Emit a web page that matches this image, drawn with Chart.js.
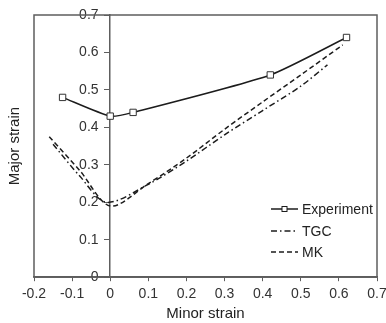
<!DOCTYPE html>
<html>
<head>
<meta charset="utf-8">
<script src="https://cdn.jsdelivr.net/npm/chart.js@4.4.1/dist/chart.umd.min.js"></script>
<style>
  html, body { margin: 0; padding: 0; background: #fff; }
  #wrap { width: 386px; height: 323px; }
</style>
</head>
<body>
<div id="wrap"><canvas id="strainChart" width="386" height="323"></canvas></div>
<script>
// values (minor strain, major strain)
var expMinor = [-0.125, 0, 0.06, 0.42, 0.62];
var expMajor = [0.48, 0.43, 0.44, 0.54, 0.64];

var tgcMinor = [-0.15, -0.08, -0.01, 0.1, 0.2, 0.3, 0.4, 0.5, 0.57];
var tgcMajor = [0.355, 0.27, 0.2, 0.248, 0.31, 0.38, 0.445, 0.51, 0.567];

var mkMinor = [-0.16, -0.08, 0, 0.1, 0.2, 0.3, 0.4, 0.5, 0.61];
var mkMajor = [0.375, 0.285, 0.19, 0.25, 0.318, 0.395, 0.468, 0.54, 0.62];

var seriesNames = ['Experiment', 'TGC', 'MK'];
var xTicks = [-0.2, 0.7, 0.1];   // min, max, step
var yTicks = [0, 0.7, 0.1];

function pairs(xs, ys) {
	return xs.map(function(x, i) { return {x: x, y: ys[i]}; });
}

var fontFam = "'Liberation Sans', Arial, sans-serif";
var ink = '#1c1c1c';
var axisGrey = '#5e5e5e';

// box round the plot area
var frame = {
	id: 'frame',
	afterDatasetsDraw: function(chart) {
		var a = chart.chartArea, c = chart.ctx;
		c.save();
		c.strokeStyle = axisGrey;
		c.lineWidth = 1.5;
		c.strokeRect(a.left, a.top, a.right - a.left, a.bottom - a.top);
		c.restore();
	}
};

// legend box inside the plot, lower right
var insideLegend = {
	id: 'insideLegend',
	afterDraw: function(chart) {
		var c = chart.ctx;
		var x0 = 271, x1 = 298, tx = 302;
		var rows = [209, 231, 252];
		c.save();
		c.font = '14px ' + fontFam;
		c.textBaseline = 'middle';
		c.fillStyle = '#222';
		chart.data.datasets.forEach(function(ds, i) {
			var y = rows[i];
			c.strokeStyle = ds.borderColor;
			c.lineWidth = 1.5;
			c.setLineDash(ds.borderDash || []);
			c.beginPath();
			c.moveTo(x0, y);
			c.lineTo(x1, y);
			c.stroke();
			c.setLineDash([]);
			if (ds.pointRadius > 0) {
				c.fillStyle = '#fff';
				c.fillRect((x0 + x1) / 2 - 2.5, y - 2.5, 5, 5);
				c.lineWidth = 1;
				c.strokeRect((x0 + x1) / 2 - 2.5, y - 2.5, 5, 5);
				c.fillStyle = '#222';
			}
			c.fillText(ds.label, tx, y + 1);
		});
		c.restore();
	}
};

var tickFmt = function(v) { return String(+v.toFixed(1)); };
// labels of the axis at x=0 sit flush on the line, pad them off it
var yTickFmt = function(v) { return tickFmt(v) + '   '; };

var chart = new Chart(document.getElementById('strainChart'), {
	type: 'line',
	data: {
		datasets: [{
			label: seriesNames[0],
			data: pairs(expMinor, expMajor),
			borderColor: ink,
			borderWidth: 1.5,
			tension: 0.2,
			pointStyle: 'rect',
			pointRadius: 4.5,
			pointBorderWidth: 1,
			pointBackgroundColor: '#fff',
			pointBorderColor: '#333'
		}, {
			label: seriesNames[1],
			data: pairs(tgcMinor, tgcMajor),
			borderColor: ink,
			borderWidth: 1.5,
			borderDash: [6, 3, 1.5, 3],
			tension: 0.3,
			pointRadius: 0
		}, {
			label: seriesNames[2],
			data: pairs(mkMinor, mkMajor),
			borderColor: ink,
			borderWidth: 1.5,
			borderDash: [5, 3],
			tension: 0.3,
			pointRadius: 0
		}]
	},
	options: {
		responsive: false,
		animation: false,
		layout: { padding: { left: 2, right: 0, top: 15, bottom: 0 } },
		plugins: { legend: { display: false }, tooltip: { enabled: false } },
		scales: {
			x: {
				type: 'linear',
				position: 'bottom',
				min: xTicks[0], max: xTicks[1],
				afterFit: function(scale) { scale.paddingRight = 9; },
				ticks: { stepSize: xTicks[2], padding: 5, color: '#333', font: { size: 14, family: fontFam }, callback: tickFmt },
				grid: { drawOnChartArea: false, tickLength: 4, color: axisGrey },
				border: { color: axisGrey, width: 1.5 },
				title: { display: true, text: 'Minor strain', color: '#222', font: { size: 15, family: fontFam }, padding: { top: -3, bottom: 0 } }
			},
			yl: {
				type: 'linear',
				position: 'left',
				min: yTicks[0], max: yTicks[1],
				ticks: { display: false },
				grid: { display: false, drawTicks: false },
				border: { display: false },
				title: { display: true, text: 'Major strain', color: '#222', font: { size: 15, family: fontFam }, padding: { top: 4, bottom: 10 } }
			},
			y: {
				type: 'linear',
				position: { x: 0 },
				min: yTicks[0], max: yTicks[1],
				ticks: { stepSize: yTicks[2], padding: 6, color: '#333', font: { size: 14, family: fontFam }, callback: yTickFmt },
				grid: { drawOnChartArea: false, tickLength: 5, color: axisGrey },
				border: { color: axisGrey, width: 1.5 }
			}
		}
	},
	plugins: [frame, insideLegend]
});
</script>
</body>
</html>
